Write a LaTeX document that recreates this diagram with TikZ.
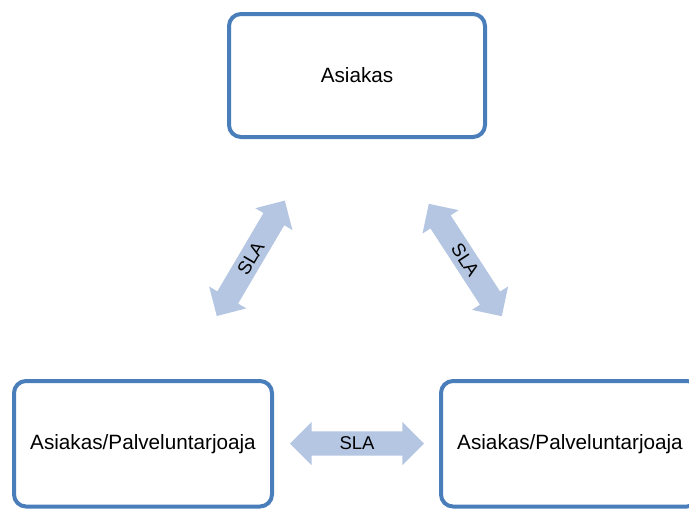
\documentclass[tikz,border=0pt]{standalone}
\usepackage{fontspec}
\setmainfont{Liberation Sans}
\usetikzlibrary{shapes.arrows}
\definecolor{boxblue}{HTML}{4A7EBB}
\definecolor{arrowfill}{HTML}{B4C6E1}
\tikzset{
  partybox/.style={draw=boxblue, line width=4pt, rounded corners=12pt, fill=white,
    rectangle, inner sep=0pt, font=\fontsize{20.7}{24}\selectfont},
  slaarrow/.style={double arrow, fill=arrowfill, draw=none,
    minimum height=134pt, minimum width=43pt,
    double arrow head extend=9.5pt, double arrow tip angle=90,
    inner xsep=4pt, inner ysep=5.3pt,
    font=\fontsize{18.5}{21}\selectfont}
}
\begin{document}
\begin{tikzpicture}[x=1pt, y=-1pt]
  \useasboundingbox (0,0) rectangle (689,509);
  % parties
  \node[partybox, minimum width=256pt, minimum height=123pt] (asiakas) at (357,75.5) {Asiakas};
  \node[partybox, minimum width=258pt, minimum height=125.5pt] (vasen) at (143,443.75) {Asiakas/Palveluntarjoaja};
  \node[partybox, minimum width=258pt, minimum height=125.5pt] (oikea) at (570,443.75) {Asiakas/Palveluntarjoaja};
  % service level agreements between the parties
  \node[slaarrow, rotate=59.5] (sla1) at (250.8,258.3) {SLA};
  \node[slaarrow, rotate=-57] (sla2) at (465.3,260) {SLA};
  \node[slaarrow] (sla3) at (357,443.5) {SLA};
\end{tikzpicture}
\end{document}
